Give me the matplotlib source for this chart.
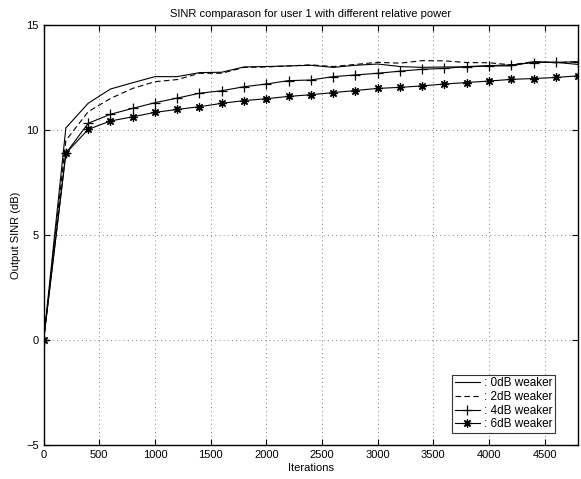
import matplotlib
matplotlib.use("Agg")
import matplotlib.pyplot as plt
import numpy as np

plt.rcParams['font.family'] = ['Liberation Sans', 'DejaVu Sans']

iters = np.arange(0, 5000, 200)

sinr_0db = [0, 10.1, 11.27, 11.95, 12.25, 12.54, 12.54, 12.73, 12.75, 13.0, 13.02, 13.05, 13.08,
            12.98, 13.08, 13.14, 13.02, 12.98, 13.0, 13.0, 13.05, 13.05, 13.25, 13.22, 13.12]
sinr_2db = [0, 9.5, 10.87, 11.5, 11.98, 12.3, 12.4, 12.7, 12.7, 12.98, 13.0, 13.05, 13.1,
            13.02, 13.12, 13.22, 13.18, 13.3, 13.29, 13.21, 13.2, 13.1, 13.25, 13.2, 13.25]
sinr_4db = [0, 8.89, 10.32, 10.75, 11.03, 11.3, 11.52, 11.75, 11.87, 12.06, 12.19, 12.35, 12.38,
            12.54, 12.62, 12.7, 12.8, 12.89, 12.93, 13.02, 13.06, 13.1, 13.21, 13.22, 13.25]
sinr_6db = [0, 8.89, 10.03, 10.43, 10.63, 10.84, 10.98, 11.11, 11.27, 11.4, 11.49, 11.6, 11.68,
            11.78, 11.88, 11.98, 12.03, 12.1, 12.19, 12.26, 12.33, 12.41, 12.45, 12.5, 12.58]

labels = [': 0dB weaker', ': 2dB weaker', ': 4dB weaker', ': 6dB weaker']

fig = plt.figure(figsize=(5.81, 4.79), dpi=100)
ax = fig.add_axes([0.075, 0.07, 0.92, 0.878])

ax.plot(iters, sinr_0db, '-', color='k', lw=0.8, label=labels[0])
ax.plot(iters, sinr_2db, '--', color='k', lw=0.8, label=labels[1], dashes=(5, 3))
ax.plot(iters, sinr_4db, '-', color='k', lw=0.8, marker='+', markersize=7, mew=0.9, label=labels[2])
ax.plot(iters, sinr_6db, '-', color='k', lw=0.8, marker=(8, 2, 0), markersize=6, mew=0.9, label=labels[3])

ax.set_xlim(0, 4800)
ax.set_ylim(-5, 15)
ax.set_xticks(np.arange(0, 4800, 500))
ax.set_yticks([-5, 0, 5, 10, 15])
ax.tick_params(direction='in', labelsize=8, length=4, top=True, right=True)
ax.grid(True, linestyle=(0, (1, 4)), color='#555555', lw=0.6)
for s in ax.spines.values():
    s.set_linewidth(1.0)

ax.set_title('SINR comparason for user 1 with different relative power', fontsize=8)
ax.set_xlabel('Iterations', fontsize=8, labelpad=2)
ax.set_ylabel('Output SINR (dB)', fontsize=8, labelpad=4)

leg = ax.legend(loc='lower right', fontsize=8.5, frameon=True, fancybox=False,
                edgecolor='k', handlelength=2.1, borderpad=0.2, labelspacing=0.15,
                handletextpad=0.4, borderaxespad=0, bbox_to_anchor=(0.957, 0.03))
leg.get_frame().set_linewidth(0.8)

fig.savefig('out.png', dpi=100)
